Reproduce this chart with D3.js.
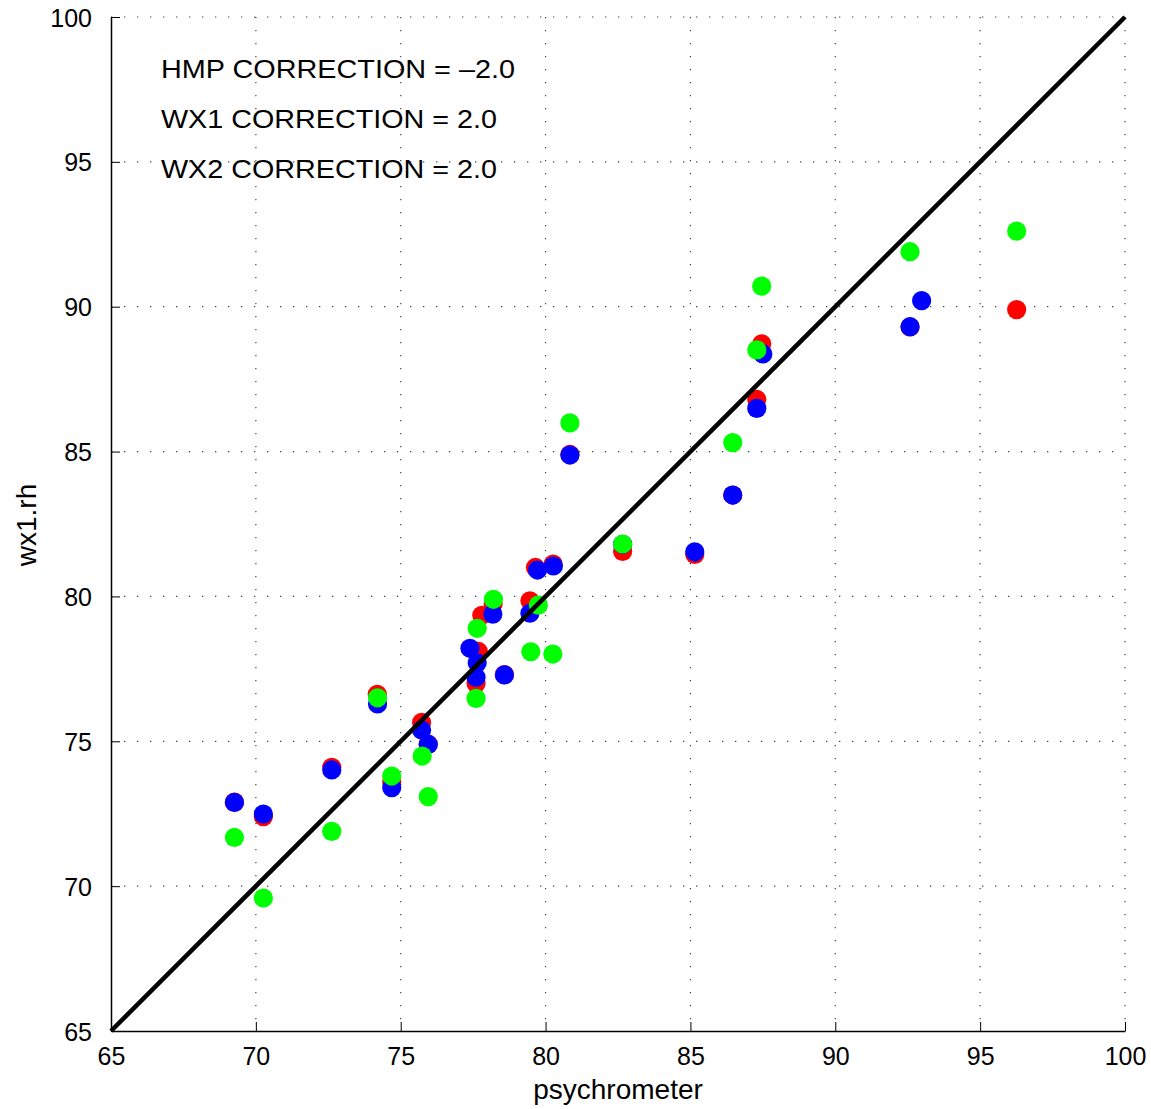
<!DOCTYPE html>
<html><head><meta charset="utf-8">
<script src="https://cdn.jsdelivr.net/npm/d3@7"></script>
<style>
body{margin:0;background:#fff;}
text{font-family:"Liberation Sans",Arial,Helvetica,sans-serif;fill:#000;}
</style></head><body>
<svg id="chart" width="1151" height="1109"></svg>
<script>
// ---- data ----
const xTicks = [65,70,75,80,85,90,95,100];
const yTicks = [65,70,75,80,85,90,95,100];
const annotations = ["HMP CORRECTION = \u20132.0","WX1 CORRECTION = 2.0","WX2 CORRECTION = 2.0"];

const redX = [69.26,70.26,72.62,74.19,74.69,75.72,75.95,77.6,77.68,77.8,78.19,78.58,79.46,79.65,80.26,80.84,82.66,85.15,86.46,87.29,87.46,92.58,96.26];
const redY = [72.9,72.4,74.1,76.62,73.6,75.65,74.9,77.0,78.1,79.35,79.75,77.3,79.85,81.0,81.12,84.9,81.55,81.45,83.5,86.8,88.72,89.3,89.9];

const blueX = [69.26,70.26,72.62,74.2,74.69,75.72,75.95,77.39,77.64,77.6,78.18,78.58,79.46,79.72,80.27,80.84,82.66,85.15,86.46,87.29,87.5,92.58,92.98];
const blueY = [72.89,72.49,74.01,76.29,73.4,75.39,74.89,78.21,77.71,77.21,79.39,77.29,79.42,80.91,81.05,84.88,81.8,81.54,83.5,86.49,88.37,89.31,90.21];

const greenX = [69.26,70.26,72.62,74.2,74.69,75.74,75.95,77.6,77.64,78.2,79.49,79.75,80.25,80.84,82.66,86.46,87.29,87.46,92.58,96.26];
const greenY = [71.68,69.59,71.89,76.5,73.8,74.49,73.09,76.48,78.9,79.9,78.09,79.7,78.01,85.99,81.81,85.31,88.51,90.71,91.9,92.61];

const seriesColors = ["#ff0000","#0000ff","#00ff00"];
const identityLine = [65,100];

// ---- layout ----
const svg = d3.select("#chart");
const L = 111, R = 1125, T = 17, B = 1031;
const x = d3.scaleLinear().domain([65,100]).range([L,R]);
const y = d3.scaleLinear().domain([65,100]).range([B,T]);

// grid (dotted)
const grid = svg.append("g");
grid.selectAll("line.gx").data(xTicks.slice(1)).join("line")
  .attr("x1",d=>x(d)).attr("x2",d=>x(d)).attr("y1",T).attr("y2",B)
  .attr("stroke","#444").attr("stroke-width",1.2).attr("stroke-dasharray","1.3,11.7");
grid.selectAll("line.gy").data(yTicks.slice(1)).join("line")
  .attr("y1",d=>y(d)).attr("y2",d=>y(d)).attr("x1",L).attr("x2",R)
  .attr("stroke","#444").attr("stroke-width",1.2).attr("stroke-dasharray","1.3,11.7");

// axes
const xAxis = d3.axisBottom(x).tickValues(xTicks).tickSizeInner(-9).tickSizeOuter(0).tickPadding(16);
const yAxis = d3.axisLeft(y).tickValues(yTicks).tickSizeInner(-9).tickSizeOuter(0).tickPadding(19);
const gx = svg.append("g").attr("transform",`translate(0,${B})`).call(xAxis);
const gy = svg.append("g").attr("transform",`translate(${L},0)`).call(yAxis);
[gx,gy].forEach(g=>{
  g.select(".domain").attr("stroke","#000").attr("stroke-width",1.5);
  g.selectAll(".tick line").attr("stroke","#000").attr("stroke-width",1);
  g.selectAll(".tick text").attr("font-size",25).attr("font-family","Liberation Sans, Arial, sans-serif").attr("fill","#000");
});
gy.selectAll(".tick text").attr("dy","0.36em");

// points
const series = [[redX,redY],[blueX,blueY],[greenX,greenY]];
series.forEach(([xs,ys],i)=>{
  svg.append("g").selectAll("circle").data(xs.map((v,j)=>[v,ys[j]])).join("circle")
    .attr("cx",d=>x(d[0])).attr("cy",d=>y(d[1])).attr("r",9.6)
    .attr("fill",seriesColors[i]);
});

// identity line
svg.append("line")
  .attr("x1",x(identityLine[0])).attr("y1",y(identityLine[0]))
  .attr("x2",x(identityLine[1])).attr("y2",y(identityLine[1]))
  .attr("stroke","#000").attr("stroke-width",4.5);

// annotations
annotations.forEach((t,i)=>{
  svg.append("text").attr("x",161).attr("y",78+i*50.2)
    .attr("font-size",25.5).attr("textLength", i===0?354:336).attr("lengthAdjust","spacingAndGlyphs")
    .text(t);
});

// axis labels
svg.append("text").attr("x",(L+R)/2).attr("y",1099).attr("text-anchor","middle")
  .attr("font-size",28).text("psychrometer");
svg.append("text").attr("transform","translate(36,525) rotate(-90)").attr("text-anchor","middle")
  .attr("font-size",28).text("wx1.rh");
</script>
</body></html>
